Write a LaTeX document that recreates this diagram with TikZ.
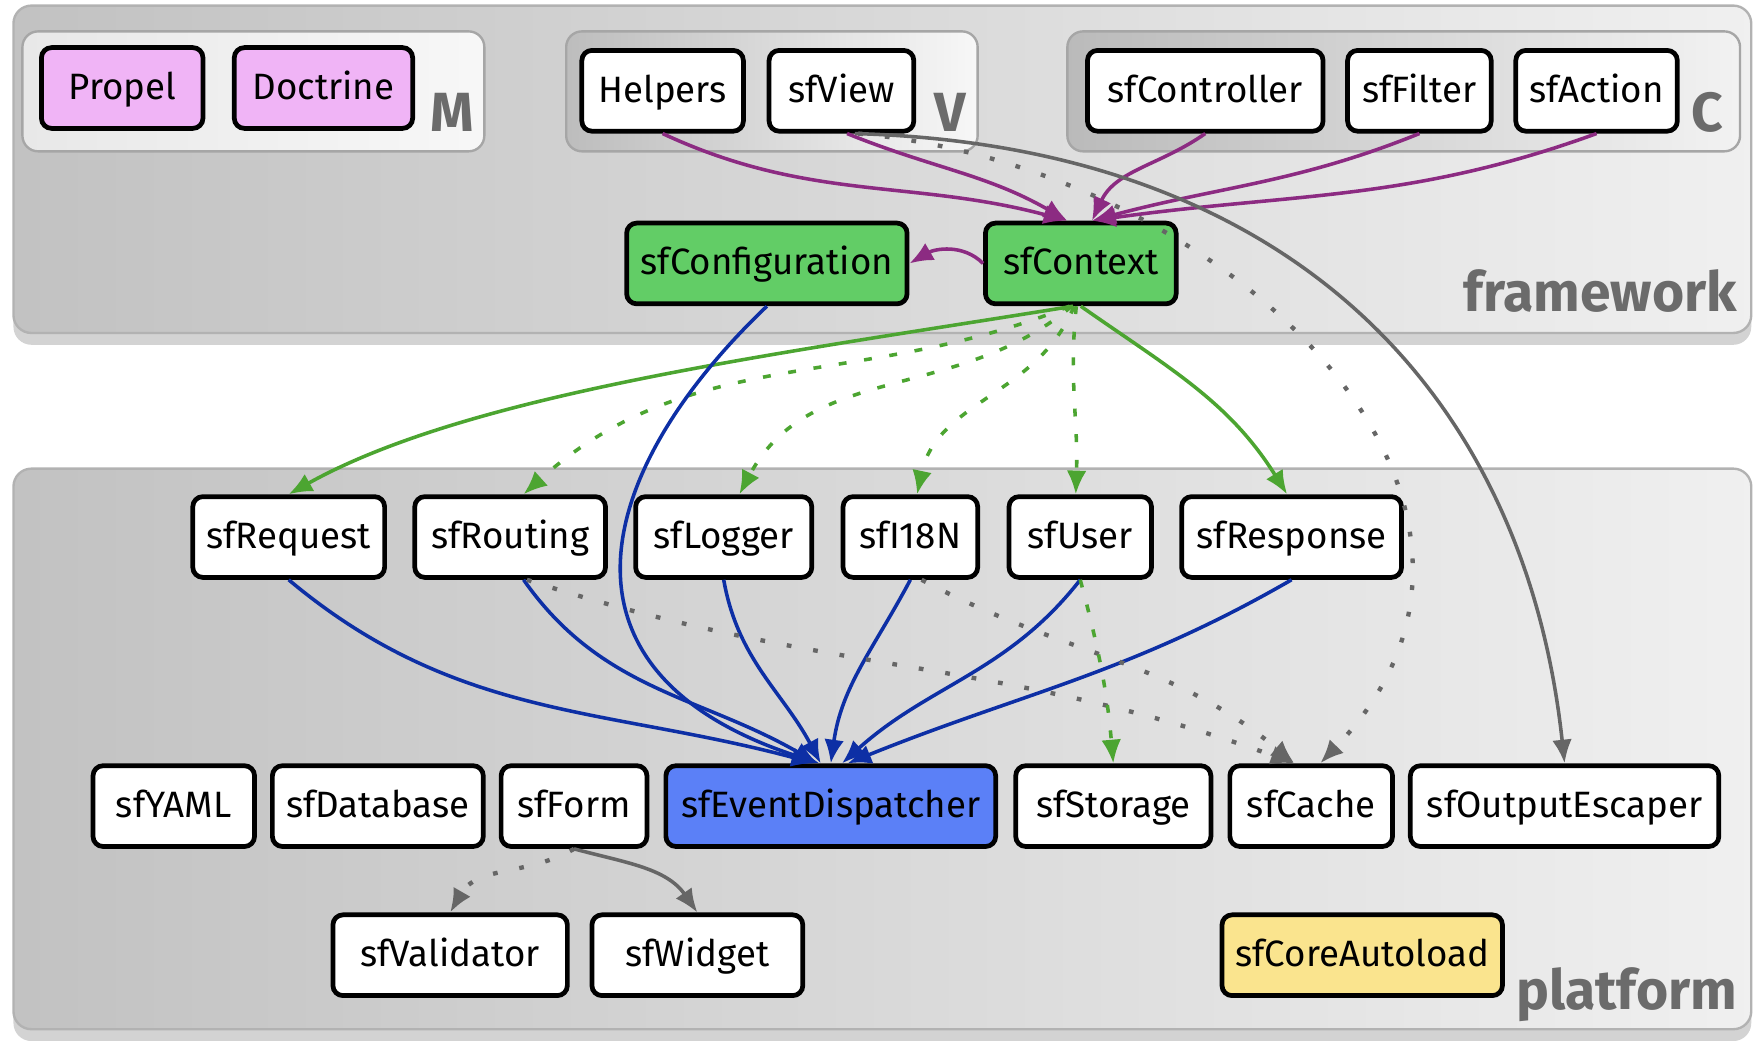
\documentclass[tikz,border=0pt]{standalone}
\usepackage{fontspec}
\setmainfont{Fira Sans}
\usepackage{tikz}
\usetikzlibrary{arrows.meta,shadows}
\definecolor{mauve}{HTML}{8C2B82}
\definecolor{leaf}{HTML}{4CA531}
\definecolor{navy}{HTML}{0D2FA5}
\definecolor{ash}{HTML}{666666}
\definecolor{pinkfill}{HTML}{F0B4F6}
\definecolor{greenfill}{HTML}{62CD66}
\definecolor{bluefill}{HTML}{5B80F7}
\definecolor{yellowfill}{HTML}{FAE48E}
\definecolor{tagtext}{HTML}{6B6B6B}

\begin{document}
\begin{tikzpicture}[x=0.01cm, y=0.01cm,
    box/.style={draw=black, line width=1.2pt, rounded corners=0.09cm, fill=white,
      minimum height=0.72cm, inner sep=0pt, text height=1.55ex, text depth=0.45ex,
      font=\fontsize{9.3}{11}\selectfont},
    panel/.style={draw=black!30, line width=0.6pt, rounded corners=0.16cm,
      left color=black!24, right color=black!6,
      drop shadow={shadow xshift=0pt, shadow yshift=-3pt, opacity=0.35}},
    group/.style={draw=black!35, line width=0.6pt, rounded corners=0.14cm},
    tag/.style={anchor=base west, inner sep=0pt, text=tagtext, font=\fontsize{14}{14}\selectfont\bfseries},
    layer/.style={anchor=base east, inner sep=0pt, text=tagtext, font=\fontsize{14}{14}\selectfont\bfseries},
    tip/.style={-{Latex[length=6pt, width=5pt]}},
    mvc/.style={tip, mauve, line width=0.9pt},
    uses/.style={tip, leaf, line width=0.9pt},
    maybe/.style={tip, leaf, line width=0.9pt, dash pattern=on 2pt off 4.5pt},
    event/.style={tip, navy, line width=0.9pt},
    loose/.style={tip, ash, line width=1.1pt, dash pattern=on 1.2pt off 5.6pt},
    plain/.style={tip, ash, line width=0.9pt}]

   % page
   \useasboundingbox (0,0) rectangle (1568,-928);

   % framework layer
   \draw[panel] (12,-5) rectangle (1562,-297);
   \draw[group, left color=black!9, right color=black!3] (20,-28) rectangle (432,-135);
   \draw[group, left color=black!26, right color=black!3] (505,-28) rectangle (872,-135);
   \draw[group, left color=black!27, right color=black!5] (952,-28) rectangle (1552,-135);

   \node[box, fill=pinkfill, minimum width=1.44cm] (propel) at (109,-78.5) {Propel};
   \node[box, fill=pinkfill, minimum width=1.59cm] (doctrine) at (288.5,-78.5) {Doctrine};
   \node[tag] (mtag) at (383,-117) {M};

   \node[box, minimum width=1.44cm] (helpers) at (591,-81) {Helpers};
   \node[box, minimum width=1.29cm] (view) at (750.5,-81) {sfView};
   \node[tag] (vtag) at (833,-117) {V};

   \node[box, minimum width=2.10cm] (controller) at (1075,-81) {sfController};
   \node[box, minimum width=1.28cm] (filter) at (1266,-81) {sfFilter};
   \node[box, minimum width=1.44cm] (action) at (1424,-81) {sfAction};
   \node[tag] (ctag) at (1508,-117) {C};

   \node[box, fill=greenfill, minimum width=2.50cm] (config) at (684,-235) {sfConfiguration};
   \node[box, fill=greenfill, minimum width=1.70cm] (context) at (964,-235) {sfContext};
   \node[layer] (fwtag) at (1550,-278) {framework};

   % platform layer
   \draw[panel] (12,-418) rectangle (1562,-918);

   \node[box, minimum width=1.71cm] (request) at (257.5,-479) {sfRequest};
   \node[box, minimum width=1.70cm] (routing) at (455,-479) {sfRouting};
   \node[box, minimum width=1.57cm] (logger) at (645.5,-479) {sfLogger};
   \node[box, minimum width=1.20cm] (i18n) at (812,-479) {sfI18N};
   \node[box, minimum width=1.27cm] (user) at (963.5,-479) {sfUser};
   \node[box, minimum width=1.96cm] (response) at (1152,-479) {sfResponse};

   \node[box, minimum width=1.44cm] (yaml) at (155,-719) {sfYAML};
   \node[box, minimum width=1.88cm] (database) at (337,-719) {sfDatabase};
   \node[box, minimum width=1.30cm] (form) at (512,-719) {sfForm};
   \node[box, fill=bluefill, minimum width=2.94cm] (dispatcher) at (741,-719) {sfEventDispatcher};
   \node[box, minimum width=1.74cm] (storage) at (993,-719) {sfStorage};
   \node[box, minimum width=1.45cm] (cache) at (1169.5,-719) {sfCache};
   \node[box, minimum width=2.75cm] (escaper) at (1395.5,-719) {sfOutputEscaper};

   \node[box, minimum width=2.09cm] (validator) at (401.5,-852) {sfValidator};
   \node[box, minimum width=1.88cm] (widget) at (622,-852) {sfWidget};
   \node[box, fill=yellowfill, minimum width=2.50cm] (autoload) at (1215,-852) {sfCoreAutoload};
   \node[layer] (pftag) at (1550,-900) {platform};

   % mvc -> context
   \draw[mvc] (helpers.south) to[out=-25, in=165] ([xshift=-0.12cm]context.north);
   \draw[mvc] ([xshift=0.05cm]view.south) to[out=-22, in=150] ([xshift=-0.12cm]context.north);
   \draw[mvc] (controller.south) to[out=-145, in=65] ([xshift=0.1cm]context.north);
   \draw[mvc] (filter.south) to[out=-158, in=15] ([xshift=0.1cm]context.north);
   \draw[mvc] (action.south) to[out=-160, in=8] ([xshift=0.1cm]context.north);
   \draw[mvc] (context.west) to[out=135, in=30] (config.east);

   % context -> platform
   \draw[uses] ([xshift=-0.07cm]context.south) .. controls (700,-315) and (420,-350) .. (request.north);
   \draw[maybe] ([xshift=-0.1cm]context.south) to[out=-158, in=42] ([xshift=0.12cm]routing.north);
   \draw[maybe] ([xshift=-0.08cm]context.south) to[out=-140, in=62] ([xshift=0.14cm]logger.north);
   \draw[maybe] ([xshift=-0.06cm]context.south) to[out=-112, in=78] ([xshift=0.06cm]i18n.north);
   \draw[maybe] ([xshift=-0.04cm]context.south) to[out=-96, in=88] ([xshift=-0.04cm]user.north);
   \draw[uses] (context.south) to[out=-35, in=122] ([xshift=-0.04cm]response.north);

   % platform -> dispatcher
   \draw[event] (config.south) .. controls (530,-420) and (480,-600) .. ([xshift=-0.1cm]dispatcher.north);
   \draw[event] (request.south) to[out=-40, in=165] ([xshift=-0.14cm]dispatcher.north);
   \draw[event] ([xshift=0.12cm]routing.south) to[out=-55, in=150] ([xshift=-0.12cm]dispatcher.north);
   \draw[event] (logger.south) to[out=-80, in=118] ([xshift=-0.09cm]dispatcher.north);
   \draw[event] (i18n.south) to[out=-118, in=82] ([xshift=0.0cm]dispatcher.north);
   \draw[event] (user.south) to[out=-128, in=42] ([xshift=0.1cm]dispatcher.north);
   \draw[event] (response.south) to[out=-150, in=22] ([xshift=0.15cm]dispatcher.north);

   % cache, storage, escaper
   \draw[loose] ([xshift=0.15cm]routing.south) to[out=-18, in=160] ([xshift=-0.15cm]cache.north);
   \draw[loose] ([xshift=0.1cm]i18n.south) to[out=-28, in=140] ([xshift=-0.15cm]cache.north);
   \draw[loose] ([xshift=0.15cm]view.south) .. controls (1100,-150) and (1400,-450) .. ([xshift=0.08cm]cache.north);
   \draw[plain] ([xshift=0.12cm]view.south) .. controls (1150,-130) and (1360,-350) .. (escaper.north);
   \draw[maybe] (user.south) to[out=-75, in=95] (storage.north);

   % form
   \draw[loose] (form.south) to[out=-150, in=60] (validator.north);
   \draw[plain] (form.south) to[out=-15, in=125] (widget.north);
\end{tikzpicture}
\end{document}
